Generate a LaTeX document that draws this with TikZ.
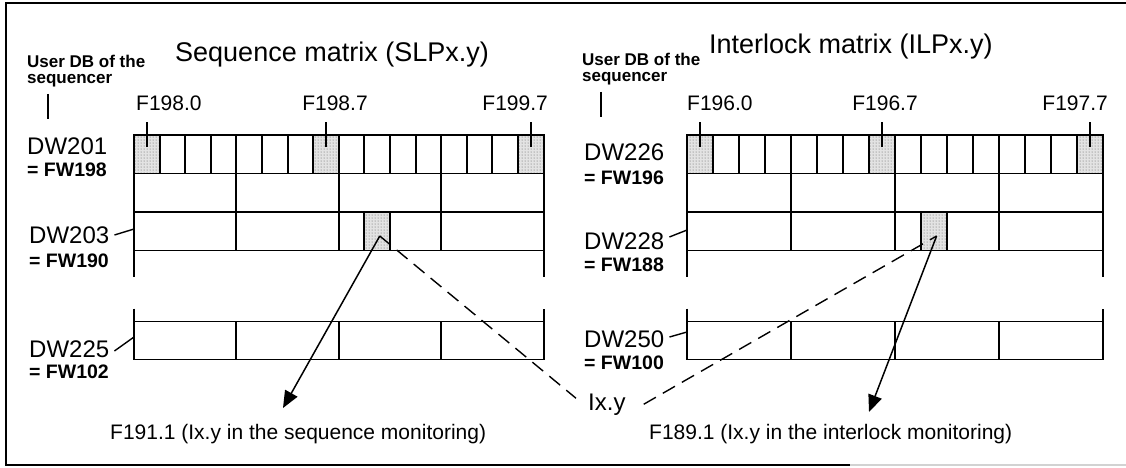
\documentclass[tikz,border=0pt]{standalone}
\usepackage{fontspec}
\setmainfont{Liberation Sans}
\usetikzlibrary{arrows.meta,positioning,patterns}

\tikzset{
  frameline/.style={line width=2pt},
  cellline/.style={line width=1.9pt},
  marked/.style={preaction={fill=gray!22}, pattern=dots, pattern color=gray!70!black},
  title/.style={font=\fontsize{27}{30}\selectfont, inner sep=0pt},
  dbnote/.style={font=\bfseries\fontsize{17}{15.5}\selectfont, align=left, inner sep=0pt},
  dwlabel/.style={font=\fontsize{24}{26}\selectfont, inner sep=0pt},
  fwlabel/.style={font=\bfseries\fontsize{19.5}{20}\selectfont, inner sep=0pt},
  bitlabel/.style={font=\fontsize{21}{22}\selectfont, inner sep=0pt},
  leader/.style={line width=1.4pt},
  pointer/.style={line width=1.5pt, -{Triangle[length=17pt,width=14pt]}},
  dashline/.style={line width=1.4pt, dash pattern=on 14pt off 8pt},
}

\begin{document}
\begin{tikzpicture}[x=1pt, y=-1pt]
\useasboundingbox (0,0) rectangle (1126,467);

% Frame, open on the right
\draw[frameline] (1126,3) -- (6,3) -- (6,465) -- (850,465);
\draw[frameline, gray!35] (850,465) -- (1126,465);

% Both matrices: 16 bits per row, data words below
\foreach \mx/\cw/\m in {134/25.6/L, 687/26/R} {
  % marked bits .0, .7 and the last one
  \foreach \b in {0,7,15}
    \fill[marked] (\mx+\b*\cw,135) rectangle ++(\cw,38.5);
  \fill[marked] (\mx+9*\cw,212) rectangle ++(\cw,38.5);
  \coordinate (\m-t0) at (\mx+0.5*\cw,147);
  \coordinate (\m-t7) at (\mx+7.5*\cw,147);
  \coordinate (\m-t15) at (\mx+15.5*\cw,147);
  \coordinate (\m-bit) at (\mx+9.6*\cw,236);
  % first data words
  \draw[cellline] (\mx,135) rectangle ++(16*\cw,77);
  \draw[cellline] (\mx,173.5) -- ++(16*\cw,0);
  \draw[cellline] (\mx,250.5) -- ++(16*\cw,0);
  \draw[cellline] (\mx,212) -- (\mx,277) (\mx+16*\cw,212) -- (\mx+16*\cw,277);
  \foreach \b in {1,...,15}
    \draw[cellline] (\mx+\b*\cw,135) -- ++(0,38.5);
  \foreach \b in {4,8,12}
    \draw[cellline] (\mx+\b*\cw,173.5) -- (\mx+\b*\cw,250.5);
  \draw[cellline] (\mx+9*\cw,212) -- ++(0,38.5) (\mx+10*\cw,212) -- ++(0,38.5);
  % last data word
  \draw[cellline] (\mx,308.5) -- (\mx,359.5) -- ++(16*\cw,0) -- ++(0,-51);
  \draw[cellline] (\mx,321.5) -- ++(16*\cw,0);
  \foreach \b in {4,8,12}
    \draw[cellline] (\mx+\b*\cw,321.5) -- ++(0,38);
}
\coordinate (L-e2) at (134,229);
\coordinate (L-e4) at (134,337);
\coordinate (R-e2) at (687,230);
\coordinate (R-e4) at (687,332);

% Sequence matrix
\node[title, anchor=base west] (L-title) at (175,61) {Sequence matrix (SLPx.y)};
\node[dbnote, anchor=north west] (L-db) at (27,55) {User DB of the\\sequencer};
\draw[leader] ([xshift=21pt,yshift=-7pt]L-db.south west) -- ++(0,25);
\node[bitlabel, anchor=base west] (L-b0) at (136,110) {F198.0};
\node[bitlabel, anchor=base] (L-b7) at (335,110) {F198.7};
\node[bitlabel, anchor=base east] (L-b15) at (548,110) {F199.7};
\foreach \b in {0,7,15}
  \draw[leader] (L-t\b) -- ++(0,-25);
\node[dwlabel, anchor=west] (L-w1) at (27,146) {DW201};
\node[fwlabel, anchor=west] (L-f1) at (27,170) {= FW198};
\node[dwlabel, anchor=west] (L-w2) at (29,235) {DW203};
\node[fwlabel, anchor=west] (L-f2) at (29,261) {= FW190};
\node[dwlabel, anchor=west] (L-w4) at (29,349) {DW225};
\node[fwlabel, anchor=west] (L-f4) at (29,372) {= FW102};
\draw[leader] ([xshift=5pt]L-w2.east) -- (L-e2);
\draw[leader] ([xshift=5pt,yshift=-2pt]L-w4.east) -- (L-e4);

% Interlock matrix
\node[title, anchor=base west] (R-title) at (709,53) {Interlock matrix (ILPx.y)};
\node[dbnote, anchor=north west] (R-db) at (582,53) {User DB of the\\sequencer};
\draw[leader] ([xshift=19pt,yshift=-7pt]R-db.south west) -- ++(0,25);
\node[bitlabel, anchor=base west] (R-b0) at (687,110) {F196.0};
\node[bitlabel, anchor=base] (R-b7) at (885,110) {F196.7};
\node[bitlabel, anchor=base east] (R-b15) at (1108,110) {F197.7};
\foreach \b in {0,7,15}
  \draw[leader] (R-t\b) -- ++(0,-25);
\node[dwlabel, anchor=west] (R-w1) at (584,152) {DW226};
\node[fwlabel, anchor=west] (R-f1) at (584,178) {= FW196};
\node[dwlabel, anchor=west] (R-w2) at (584,241) {DW228};
\node[fwlabel, anchor=west] (R-f2) at (584,265) {= FW188};
\node[dwlabel, anchor=west] (R-w4) at (584,339) {DW250};
\node[fwlabel, anchor=west] (R-f4) at (584,363) {= FW100};
\draw[leader] ([xshift=5pt,yshift=4pt]R-w2.east) -- (R-e2);
\draw[leader] ([xshift=5pt,yshift=2pt]R-w4.east) -- (R-e4);

% Monitoring bits
\node[font=\fontsize{24}{26}\selectfont, inner sep=0pt, anchor=base west] (ixy) at (588,410) {Ix.y};
\node[bitlabel, anchor=base west] (L-mon) at (110,439) {F191.1 (Ix.y in the sequence monitoring)};
\node[bitlabel, anchor=base west] (R-mon) at (649,439) {F189.1 (Ix.y in the interlock monitoring)};
\coordinate (L-tip) at (283,408);
\coordinate (R-tip) at (869,412);
\draw[pointer] (L-bit) -- (L-tip);
\draw[pointer] (R-bit) -- (R-tip);
\draw[dashline] (L-bit) -- ([xshift=-12pt,yshift=6pt]ixy.west);
\draw[dashline] ([xshift=18pt]ixy.east) -- (R-bit);
\end{tikzpicture}
\end{document}
